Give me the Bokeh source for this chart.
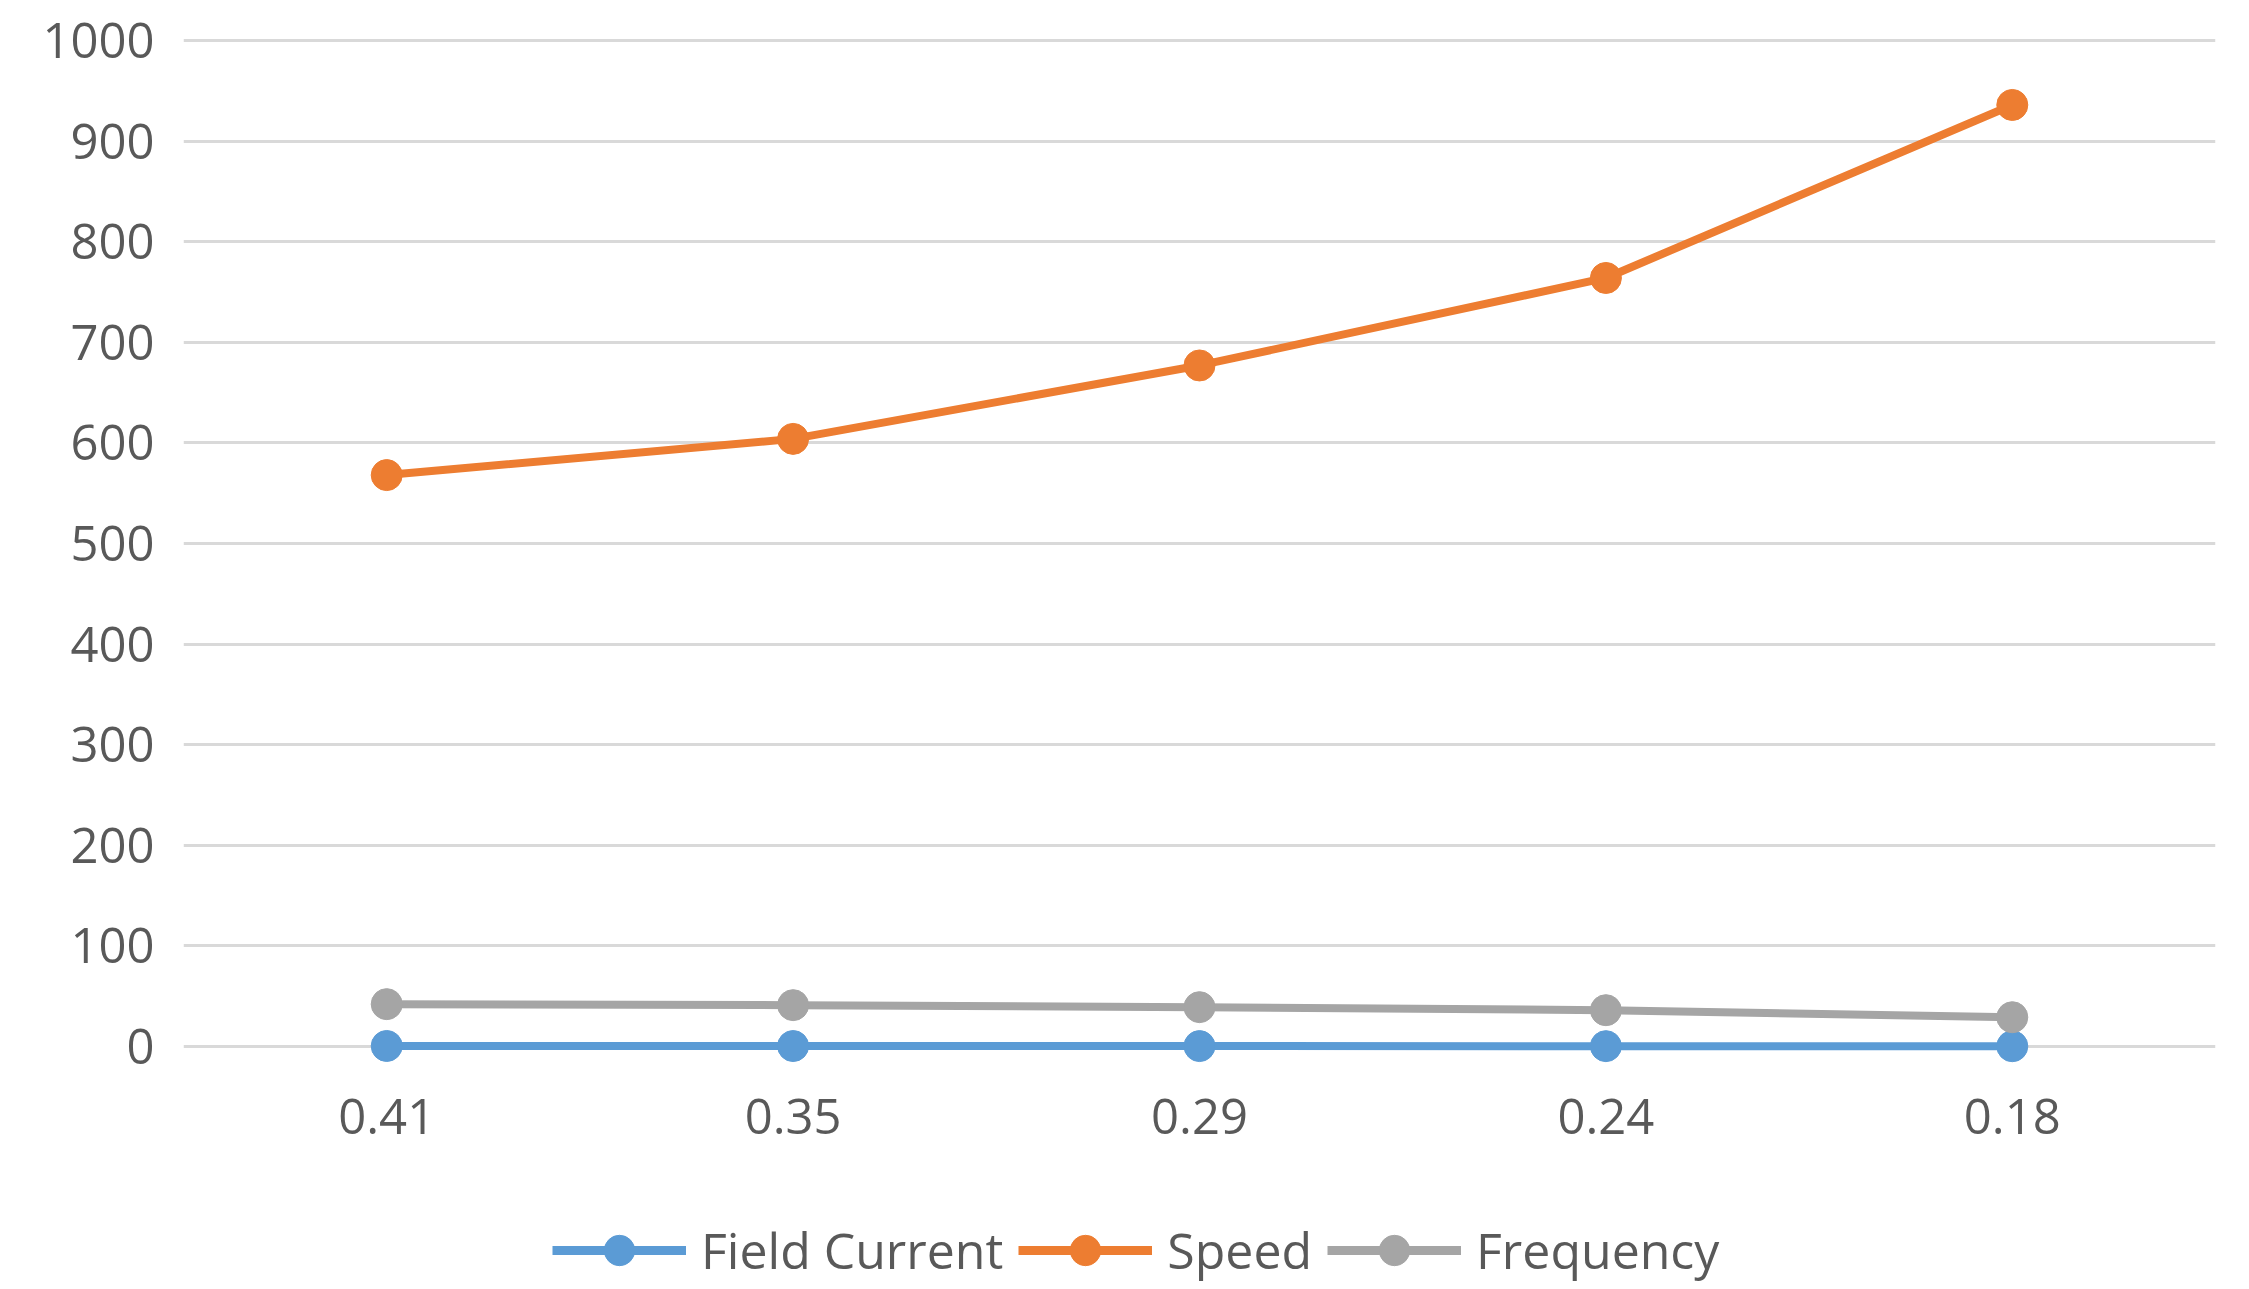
from bokeh.plotting import figure
from bokeh.layouts import column
from bokeh.models import Range1d, Legend, LegendItem, FixedTicker
from bokeh.embed import file_html
from bokeh.resources import INLINE

categories = ["0.41", "0.35", "0.29", "0.24", "0.18"]
field_current = [0.41, 0.35, 0.29, 0.24, 0.18]
speed = [568, 604, 677, 764, 936]
frequency = [42, 41, 39, 36, 29]
y_ticks = [0, 100, 200, 300, 400, 500, 600, 700, 800, 900, 1000]
series_names = ["Field Current", "Speed", "Frequency"]
series_colors = ["#5B9BD5", "#ED7D31", "#A5A5A5"]

FONT = "Open Sans"
TXT = "#595959"

p = figure(x_range=categories, y_range=Range1d(-20, 1015),
           output_backend="svg", toolbar_location=None,
           frame_width=2032, frame_height=1041,
           min_border_left=183, min_border_right=18, min_border_top=25, min_border_bottom=110)
p.outline_line_color = None
p.background_fill_color = "white"

for vals, col in zip([field_current, speed, frequency], series_colors):
    p.line(categories, vals, line_color=col, line_width=8)
    p.scatter(categories, vals, size=31, fill_color=col, line_color=col)

p.yaxis.ticker = FixedTicker(ticks=y_ticks)
p.ygrid.ticker = FixedTicker(ticks=y_ticks)
p.ygrid.grid_line_color = "#D9D9D9"
p.ygrid.grid_line_width = 3
p.xgrid.grid_line_color = None

for ax in (p.xaxis, p.yaxis):
    ax.axis_line_color = None
    ax.major_tick_line_color = None
    ax.minor_tick_line_color = None
    ax.major_label_text_font = FONT
    ax.major_label_text_font_size = "49px"
    ax.major_label_text_color = TXT
p.yaxis.major_label_standoff = 23
p.xaxis.major_label_standoff = 26

# legend strip below the chart (renderers hold one off-range point so
# that the legend can draw their styles)
p2 = figure(width=2233, height=112, output_backend="svg", toolbar_location=None,
            x_axis_location=None, y_axis_location=None,
            x_range=Range1d(0, 1), y_range=Range1d(0, 1),
            min_border_left=0, min_border_right=0, min_border_top=0, min_border_bottom=0)
p2.outline_line_color = None
p2.grid.visible = False
items = []
for name, col in zip(series_names, series_colors):
    l = p2.line([5, 6], [5, 6], line_color=col, line_width=9)
    s = p2.scatter([5], [5], size=31, fill_color=col, line_color=col)
    items.append(LegendItem(label=name, renderers=[l, s]))

legend = Legend(items=items, orientation="horizontal", location=(369, 0),
                glyph_width=134, glyph_height=76, label_height=40,
                label_standoff=15, spacing=15,
                label_text_font=FONT, label_text_font_size="50px",
                label_text_color=TXT, border_line_color=None,
                background_fill_alpha=0, padding=0, margin=0)
p2.add_layout(legend, "center")

layout = column(p, p2, spacing=0)
open("out.html", "w").write(file_html(layout, INLINE))
